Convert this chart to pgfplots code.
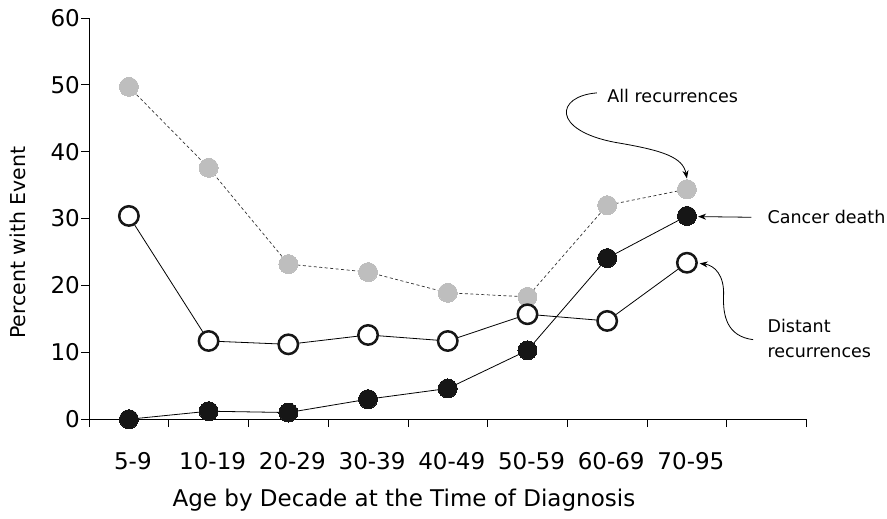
\documentclass[border=0pt]{standalone}
\usepackage{fontspec}
\setmainfont{DejaVu Sans}
\usepackage{pgfplots}
\pgfplotsset{compat=1.18}
\usetikzlibrary{arrows.meta}
\definecolor{lgray}{RGB}{190,190,190}
\definecolor{dk}{RGB}{22,22,22}
\begin{document}
\begin{tikzpicture}
\begin{axis}[
 scale only axis, width=717pt, height=401pt,
 xmin=0, xmax=9, ymin=0, ymax=60,
 axis x line*=bottom, axis y line*=left,
 axis line style={line width=0.9pt},
 xtick={0,...,9}, xticklabels={},
 extra x ticks={0.5,1.5,2.5,3.5,4.5,5.5,6.5,7.5},
 extra x tick labels={5-9,10-19,20-29,30-39,40-49,50-59,60-69,70-95},
 extra x tick style={major tick length=0pt, xticklabel style={yshift=-30pt, xshift=4pt}},
 ytick={0,10,...,60},
 tick align=outside, major tick length=8pt,
 tick style={black, line width=0.8pt},
 yticklabel style={inner sep=1pt},
 ticklabel style={font=\fontsize{23}{27}\selectfont},
 /pgf/number format/assume math mode=true,
 clip=false,
]
% All recurrences
\addplot[black!80, line width=0.7pt, dash pattern=on 3pt off 2.5pt, mark=*, mark size=9.5pt,
  mark options={solid, fill=lgray, draw=lgray, line width=0pt}] coordinates {
 (0.5,49.7) (1.5,37.6) (2.5,23.2) (3.5,22.0) (4.5,18.9) (5.5,18.3) (6.5,32.0) (7.5,34.4)};
% Distant recurrences
\addplot[black, line width=0.8pt, mark=*, mark size=9.7pt,
  mark options={fill=white, draw=dk, line width=2.5pt}] coordinates {
 (0.5,30.4) (1.5,11.7) (2.5,11.2) (3.5,12.6) (4.5,11.7) (5.5,15.7) (6.5,14.7) (7.5,23.4)};
% Cancer death
\addplot[black, line width=0.8pt, mark=*, mark size=9.5pt,
  mark options={fill=dk, draw=dk, line width=0pt}] coordinates {
 (0.5,0.0) (1.5,1.2) (2.5,1.0) (3.5,3.0) (4.5,4.6) (5.5,10.3) (6.5,24.1) (7.5,30.4)};

\node[anchor=west, font=\fontsize{17.5}{21}\selectfont, inner sep=0pt] at (axis cs:6.5,48.3) {All recurrences};
\draw[line width=0.8pt, -{Stealth[length=8pt,width=6pt]}] (axis cs:6.37,48.8) .. controls (axis cs:5.85,48.3) and (axis cs:5.8,43.2) .. (axis cs:6.6,41.4) .. controls (axis cs:7.2,40.2) and (axis cs:7.45,39.2) .. (axis cs:7.5,36.0);

\node[anchor=west, font=\fontsize{17.5}{21}\selectfont, inner sep=0pt] at (axis cs:8.51,30.2) {Cancer death};
\draw[line width=0.8pt, -{Stealth[length=8pt,width=6pt]}] (axis cs:8.31,30.2) -- (axis cs:7.64,30.3);

\node[anchor=west, align=left, font=\fontsize{17.5}{25}\selectfont, inner sep=0pt] at (axis cs:8.51,12.1) {Distant\\recurrences};
\draw[line width=0.8pt, -{Stealth[length=8pt,width=6pt]}] (axis cs:8.33,11.9) .. controls (axis cs:8.0,12.4) and (axis cs:7.95,15.5) .. (axis cs:7.96,18.5) .. controls (axis cs:7.97,21.5) and (axis cs:7.85,23.0) .. (axis cs:7.66,23.3);

\node[rotate=90, font=\fontsize{20.5}{24}\selectfont] at (axis cs:-0.89,26.4) {Percent with Event};
\node[font=\fontsize{23}{27}\selectfont] at (axis cs:3.95,-12.1) {Age by Decade at the Time of Diagnosis};

\coordinate (bl) at (axis cs:-1.117,-14.81);
\coordinate (tr) at (axis cs:10.01,62.69);
\end{axis}
\pgfresetboundingbox
\path[use as bounding box] (bl) rectangle (tr);
\end{tikzpicture}
\end{document}
